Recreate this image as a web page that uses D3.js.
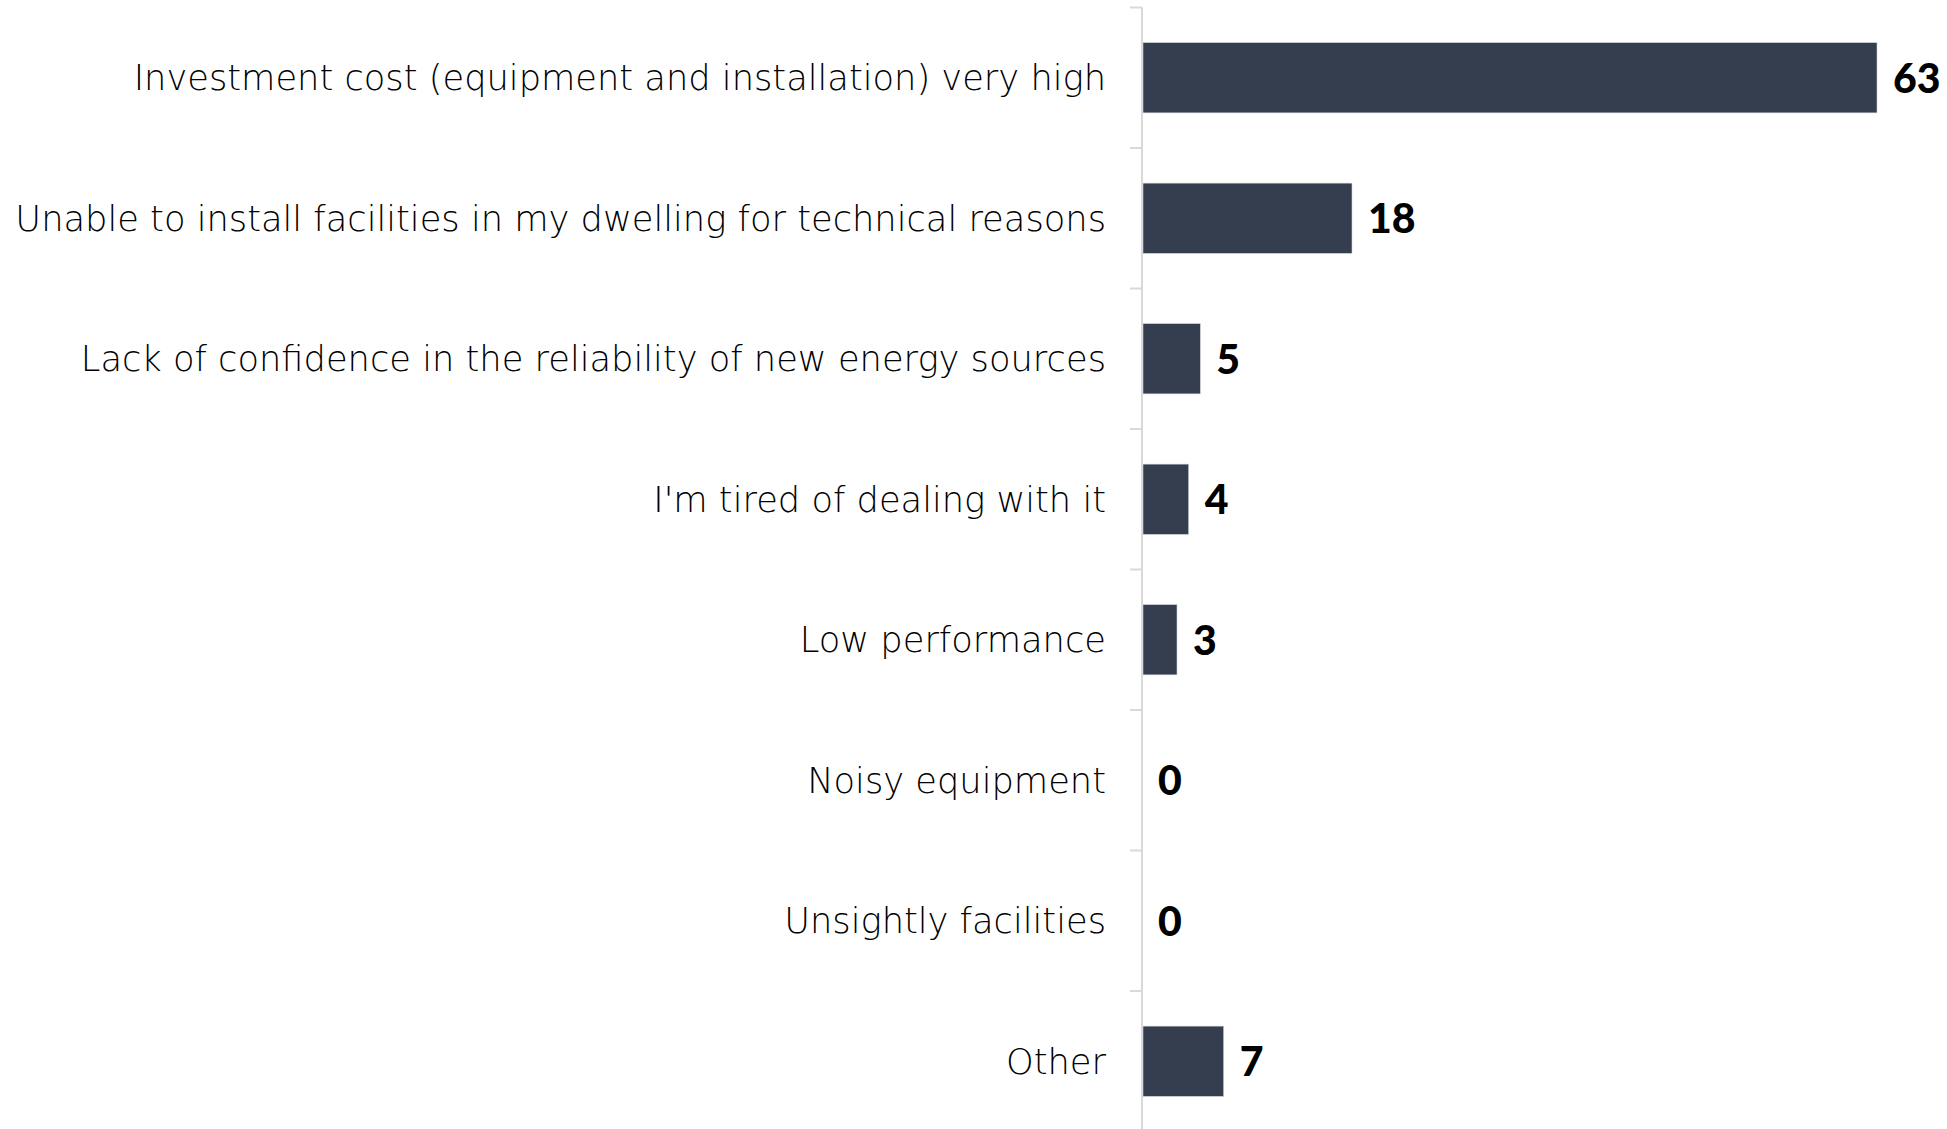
<!DOCTYPE html>
<html>
<head>
<meta charset="utf-8">
<script src="https://cdn.jsdelivr.net/npm/d3@7"></script>
<style>
  html, body { margin: 0; padding: 0; background: #ffffff; }
  svg { display: block; }
</style>
</head>
<body>
<svg id="chart" width="1947" height="1129"></svg>
<script>
const categories = [
  "Investment cost (equipment and installation) very high",
  "Unable to install facilities in my dwelling for technical reasons",
  "Lack of confidence in the reliability of new energy sources",
  "I'm tired of dealing with it",
  "Low performance",
  "Noisy equipment",
  "Unsightly facilities",
  "Other"
];
const values = [63, 18, 5, 4, 3, 0, 0, 7];

const W = 1947, H = 1129;
const axisX = 1142;
const svg = d3.select("#chart");

const y = d3.scaleBand()
  .domain(categories)
  .range([7.5, 1131.5])
  .paddingInner(0.5)
  .paddingOuter(0.25);

const x = d3.scaleLinear()
  .domain([0, d3.max(values)])
  .range([axisX, 1877]);

const data = categories.map((c, i) => ({ cat: c, val: values[i] }));

// axis line and band-boundary ticks
const g = svg.append("g");
g.append("line")
  .attr("x1", axisX).attr("x2", axisX)
  .attr("y1", 7).attr("y2", H)
  .attr("stroke", "#d9d9d9").attr("stroke-width", 2);

const boundaries = categories.map(c => y(c) - y.step() * y.paddingInner() / 2);
boundaries.push(y(categories[categories.length - 1]) + y.bandwidth() + y.step() * y.paddingInner() / 2);
g.selectAll("line.tick").data(boundaries).enter().append("line")
  .attr("class", "tick")
  .attr("x1", axisX - 12).attr("x2", axisX)
  .attr("y1", d => d).attr("y2", d => d)
  .attr("stroke", "#d9d9d9").attr("stroke-width", 2);

// bars
svg.selectAll("rect.bar").data(data).enter().append("rect")
  .attr("class", "bar")
  .attr("x", x(0) + 1)
  .attr("y", d => y(d.cat))
  .attr("width", d => Math.max(0, x(d.val) - x(0) - 1))
  .attr("height", y.bandwidth())
  .attr("fill", "#343e4f")
  .attr("stroke", d => d.val > 0 ? "#cfd3d9" : "none")
  .attr("stroke-width", 0.6);

// value labels
svg.selectAll("text.val").data(data).enter().append("text")
  .attr("class", "val")
  .attr("x", d => x(d.val) + 16)
  .attr("y", d => y(d.cat) + y.bandwidth() / 2)
  .attr("dy", "0.37em")
  .attr("font-family", "Lato, 'DejaVu Sans', sans-serif")
  .attr("font-weight", 900)
  .attr("font-size", 41)
  .attr("fill", "#000")
  .text(d => d.val);

// category labels
const catLabels = svg.selectAll("text.cat").data(data).enter().append("text")
  .attr("class", "cat")
  .attr("x", 1106)
  .attr("y", d => y(d.cat) + y.bandwidth() / 2)
  .attr("dy", "0.36em")
  .attr("text-anchor", "end")
  .attr("font-family", "'DejaVu Sans', sans-serif")
  .attr("font-weight", 300)
  .attr("font-size", 33)
  .attr("fill", "#000")
  .text(d => d.cat);

// fit the longest label to the reference width
let maxLen = 0;
catLabels.each(function() { maxLen = Math.max(maxLen, this.getComputedTextLength()); });
if (maxLen > 0) {
  const fs = 33 * 1091 / maxLen;
  catLabels.attr("font-size", fs);
}
</script>
</body>
</html>
